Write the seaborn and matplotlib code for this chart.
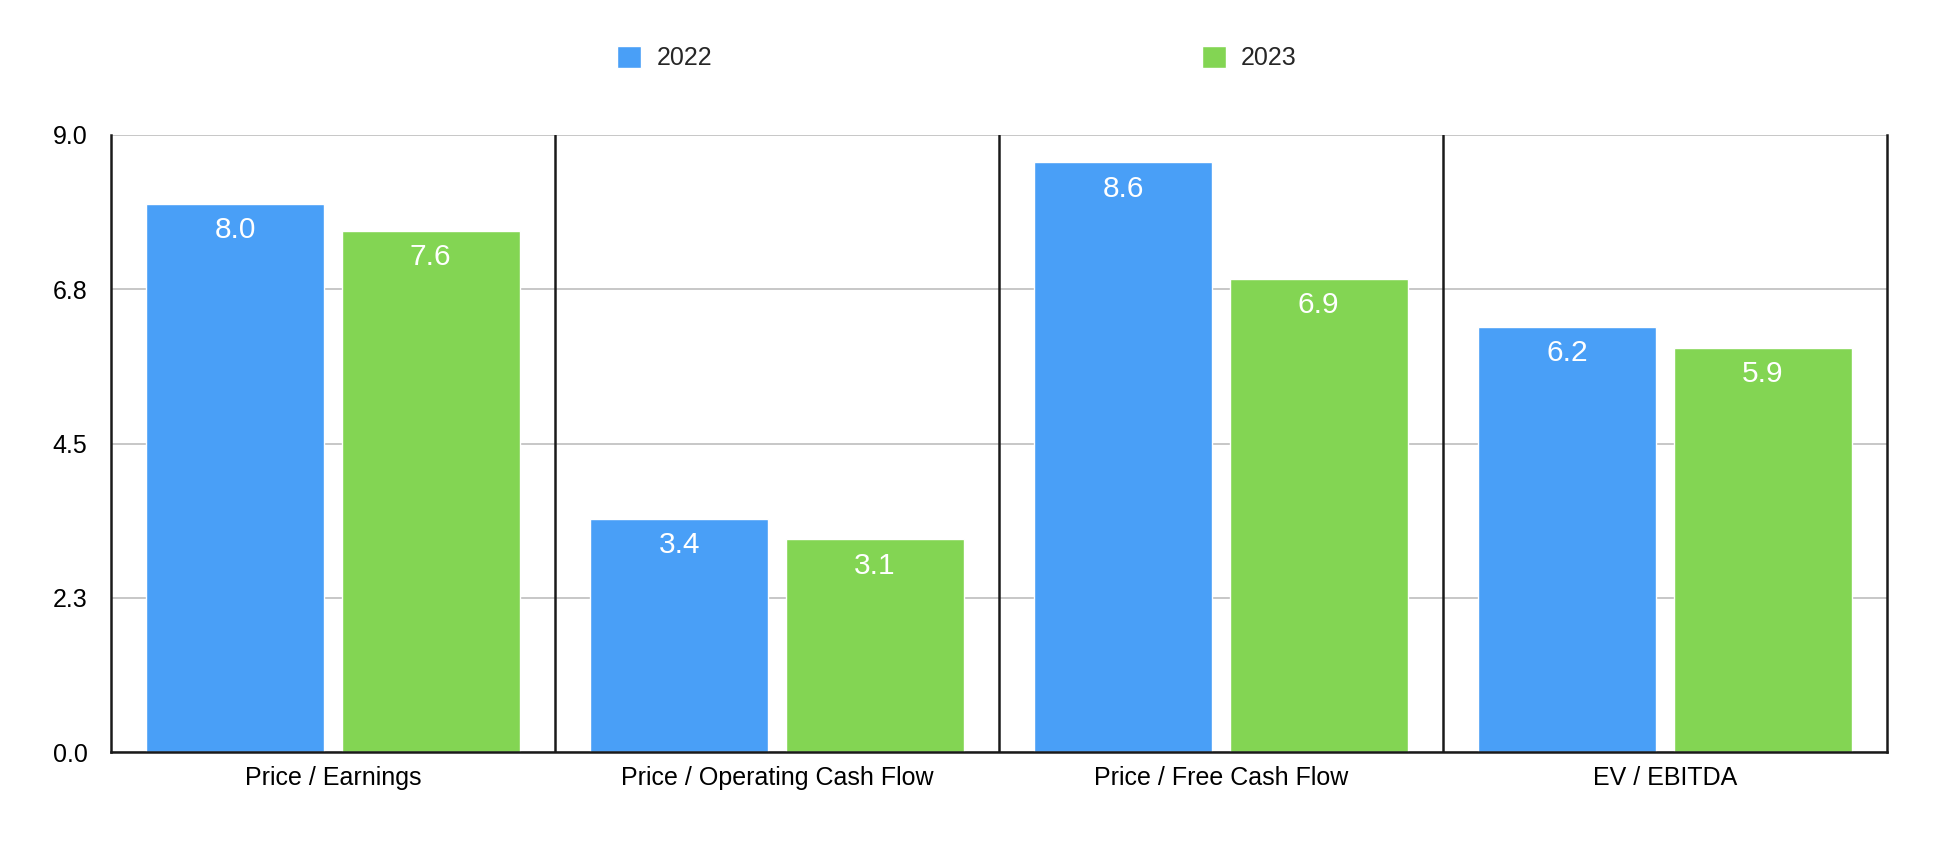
import matplotlib
matplotlib.use("Agg")
import matplotlib.pyplot as plt
import seaborn as sns
import pandas as pd

categories = ["Price / Earnings", "Price / Operating Cash Flow", "Price / Free Cash Flow", "EV / EBITDA"]
years = ["2022", "2023"]
values_2022 = [8.0, 3.4, 8.6, 6.2]
values_2023 = [7.6, 3.1, 6.9, 5.9]
ytick_values = [0.0, 2.25, 4.5, 6.75, 9.0]
ytick_labels = ["0.0", "2.3", "4.5", "6.8", "9.0"]
colors = ["#499FF7", "#83D553"]

sns.set_theme(style="white")
plt.rcParams["font.family"] = ["Liberation Sans", "DejaVu Sans"]

df = pd.DataFrame({
    "metric": categories * 2,
    "year": [years[0]] * 4 + [years[1]] * 4,
    "value": values_2022 + values_2023,
})

fig = plt.figure(figsize=(19.56, 8.58), dpi=100)
ax = fig.add_axes([111 / 1956, 1 - 752 / 858, (1887 - 111) / 1956, (752 - 135) / 858])

sns.barplot(data=df, x="metric", y="value", hue="year", palette=colors,
            width=0.88, gap=0.09, saturation=1, ax=ax, zorder=3)

ax.set_xlim(-0.5, 3.5)
ax.set_ylim(0, 9.0)
ax.set_yticks(ytick_values)
ax.set_yticklabels(ytick_labels)
ax.set_xlabel("")
ax.set_ylabel("")
ax.tick_params(axis="y", length=0, pad=17, labelsize=18, labelcolor="black")
ax.tick_params(axis="x", length=0, pad=10, labelsize=18, labelcolor="black")

ax.yaxis.grid(True, color="#bdbdbd", linewidth=1.2, zorder=0)
ax.set_axisbelow(True)

for x in [0.5, 1.5, 2.5]:
    ax.axvline(x, color="#1a1a1a", linewidth=1.8, zorder=4)

for side in ["left", "bottom", "right"]:
    ax.spines[side].set_visible(True)
    ax.spines[side].set_color("#1a1a1a")
    ax.spines[side].set_linewidth(1.8)
    ax.spines[side].set_zorder(5)
ax.spines["top"].set_visible(False)

for container in ax.containers:
    for patch in container.patches:
        h = patch.get_height()
        ax.annotate(f"{h:.1f}", xy=(patch.get_x() + patch.get_width() / 2, h),
                    xytext=(0, -19), textcoords="offset points",
                    ha="center", va="center", color="white", fontsize=21.5, zorder=6)

handles, labels = ax.get_legend_handles_labels()
if ax.get_legend() is not None:
    ax.get_legend().remove()
fig.legend(handles, labels, loc="center", bbox_to_anchor=(957 / 1956, 1 - 58 / 858),
           ncol=2, frameon=False, fontsize=18, handlelength=0.96, handleheight=0.96,
           handletextpad=0.6, columnspacing=19.6)

fig.savefig("out.png", dpi=100)
